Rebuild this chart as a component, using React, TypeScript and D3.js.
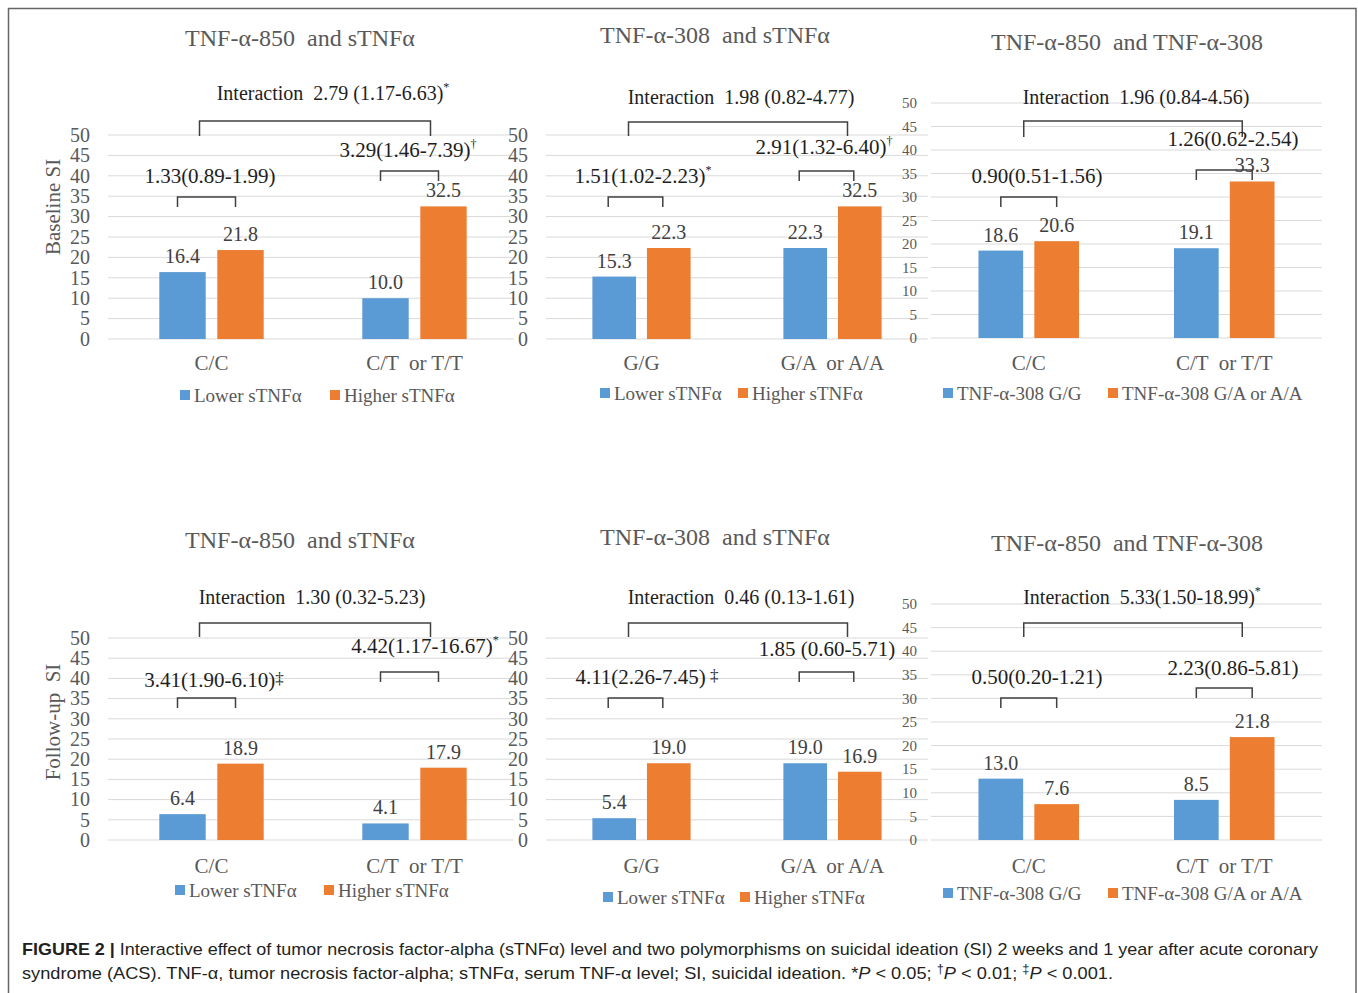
import React from "react";
import * as d3 from "d3";

// ---------------- DATA ----------------
const yTickValues = [0, 5, 10, 15, 20, 25, 30, 35, 40, 45, 50];
const panelTitles = ["TNF-α-850  and sTNFα", "TNF-α-308  and sTNFα", "TNF-α-850  and TNF-α-308"];
const cats850 = ["C/C", "C/T  or T/T"];
const cats308 = ["G/G", "G/A  or A/A"];
const seriesSTNF = ["Lower sTNFα", "Higher sTNFα"];
const series308 = ["TNF-α-308 G/G", "TNF-α-308 G/A or A/A"];
const rowTitles = ["Baseline SI", "Follow-up  SI"];

// values[category][series]
const baseline850 = [[16.4, 21.8], [10.0, 32.5]];
const baseline308 = [[15.3, 22.3], [22.3, 32.5]];
const baselineGene = [[18.6, 20.6], [19.1, 33.3]];
const followup850 = [[6.4, 18.9], [4.1, 17.9]];
const followup308 = [[5.4, 19.0], [19.0, 16.9]];
const followupGene = [[13.0, 7.6], [8.5, 21.8]];

const baselineInteractionOR = ["2.79 (1.17-6.63)", "1.98 (0.82-4.77)", "1.96 (0.84-4.56)"];
const baselineInteractionMark = ["*", "", ""];
const baselineGroupOR = [
  ["1.33(0.89-1.99)", "3.29(1.46-7.39)"],
  ["1.51(1.02-2.23)", "2.91(1.32-6.40)"],
  ["0.90(0.51-1.56)", "1.26(0.62-2.54)"],
];
const baselineGroupMark = [["", "†"], ["*", "†"], ["", ""]];

const followupInteractionOR = ["1.30 (0.32-5.23)", "0.46 (0.13-1.61)", "5.33(1.50-18.99)"];
const followupInteractionMark = ["", "", "*"];
const followupGroupOR = [
  ["3.41(1.90-6.10)", "4.42(1.17-16.67)"],
  ["4.11(2.26-7.45)", "1.85 (0.60-5.71)"],
  ["0.50(0.20-1.21)", "2.23(0.86-5.81)"],
];
const followupGroupMark = [["‡", "*"], [" ‡", ""], ["", ""]];

const captionLine1Bold = "FIGURE 2 |";
const captionLine1 = " Interactive effect of tumor necrosis factor-alpha (sTNFα) level and two polymorphisms on suicidal ideation (SI) 2 weeks and 1 year after acute coronary";
const captionLine2 = "syndrome (ACS). TNF-α, tumor necrosis factor-alpha; sTNFα, serum TNF-α level; SI, suicidal ideation. ";

// ---------------- LAYOUT ----------------
const BLUE = "#5B9BD5";
const ORANGE = "#ED7D31";
const GRID = "#D9D9D9";
const GRAY = "#595959";
const DARK = "#1e1e1e";
const SERIF = "'Liberation Serif', 'Times New Roman', serif";
const SANS = "'Liberation Sans Narrow', 'Liberation Sans', Arial, sans-serif";

const COLS = [
  { band: [110, 516], grid: [108, 514], tickX: 90, tickFont: 20, titleX: 300, bDx: -5, iDx: [-12, 16] },
  { band: [546, 928], grid: [546, 928], tickX: 528, tickFont: 20, titleX: 715, bDx: -6, iDx: [-13, 15] },
  { band: [931, 1322], grid: [931, 1322], tickX: 917, tickFont: 15, titleX: 1127, bDx: 0, iDx: [-5, 18] },
];

const PANELS = [
  [
    { y: [339, 135], titleY: 46, interX: 333, interY: 100, interBr: [121, 136], grp: [{ x: 210, y: 183, br: 197 }, { x: 408, y: 157, br: 171 }], legendY: 395, legendX: [180, 330], catY: 370 },
    { y: [339, 135], titleY: 43, interX: 741, interY: 104, interBr: [122, 136], grp: [{ x: 643, y: 183, br: 197 }, { x: 824, y: 154, br: 171 }], legendY: 393, legendX: [600, 738], catY: 370 },
    { y: [338, 103], titleY: 50, interX: 1136, interY: 104, interBr: [121, 137], grp: [{ x: 1037, y: 183, br: 197 }, { x: 1233, y: 146, br: 170 }], legendY: 393, legendX: [943, 1108], catY: 370 },
  ],
  [
    { y: [840, 638], titleY: 548, interX: 312, interY: 604, interBr: [623, 637], grp: [{ x: 214, y: 687, br: 698 }, { x: 425, y: 653, br: 672 }], legendY: 890, legendX: [175, 324], catY: 873 },
    { y: [840, 638], titleY: 545, interX: 741, interY: 604, interBr: [623, 637], grp: [{ x: 647, y: 684, br: 698 }, { x: 827, y: 656, br: 672 }], legendY: 897, legendX: [603, 740], catY: 873 },
    { y: [840, 604], titleY: 551, interX: 1142, interY: 604, interBr: [623, 637], grp: [{ x: 1037, y: 684, br: 698 }, { x: 1233, y: 675, br: 688 }], legendY: 893, legendX: [943, 1108], catY: 873 },
  ],
];

const ROWS = [
  {
    values: [baseline850, baseline308, baselineGene],
    interOR: baselineInteractionOR, interMark: baselineInteractionMark,
    grpOR: baselineGroupOR, grpMark: baselineGroupMark, yTitleY: 207,
  },
  {
    values: [followup850, followup308, followupGene],
    interOR: followupInteractionOR, interMark: followupInteractionMark,
    grpOR: followupGroupOR, grpMark: followupGroupMark, yTitleY: 722,
  },
];

const COL_CATS = [cats850, cats308, cats850];
const COL_SERIES = [seriesSTNF, seriesSTNF, series308];
const COLORS = [BLUE, ORANGE];

function Mark({ m }: { m: string }) {
  if (!m) return null;
  if (m.includes("‡")) {
    return <tspan dy={-3} fontSize={17}>{m}</tspan>;
  }
  return <tspan dy={-9} fontSize={12}>{m}</tspan>;
}

function Panel({ row, col }: { row: number; col: number }) {
  const c = COLS[col];
  const p = PANELS[row][col];
  const r = ROWS[row];
  const cats = COL_CATS[col];
  const series = COL_SERIES[col];
  const vals = r.values[col];

  const x0 = d3.scaleBand<string>().domain(cats).range(c.band as [number, number]).paddingInner(0).paddingOuter(0);
  const x1 = d3.scaleBand<number>().domain([0, 1]).range([0, x0.bandwidth()]).paddingInner(0.2).paddingOuter(0.85);
  const y = d3.scaleLinear().domain([0, 50]).range(p.y as [number, number]);

  const barCenter = (ci: number, si: number) => (x0(cats[ci]) as number) + (x1(si) as number) + x1.bandwidth() / 2;
  const catCenter = (ci: number) => (x0(cats[ci]) as number) + x0.bandwidth() / 2;

  const ib0 = catCenter(0) + c.iDx[0];
  const ib1 = catCenter(1) + c.iDx[1];

  return (
    <g>
      {/* gridlines */}
      {yTickValues.map((t) => (
        <line key={"g" + t} x1={c.grid[0]} x2={c.grid[1]} y1={y(t)} y2={y(t)} stroke={GRID} strokeWidth={1} />
      ))}
      {/* tick labels */}
      {yTickValues.map((t) => (
        <text key={"t" + t} x={c.tickX} y={y(t)} dy="0.34em" textAnchor="end" fontSize={c.tickFont} fill={GRAY} fontFamily={SERIF}>
          {t}
        </text>
      ))}
      {/* bars */}
      {vals.map((pair, ci) =>
        pair.map((v, si) => (
          <rect
            key={`b${ci}-${si}`}
            x={(x0(cats[ci]) as number) + (x1(si) as number)}
            y={y(v)}
            width={x1.bandwidth()}
            height={y(0) - y(v)}
            fill={COLORS[si]}
          />
        ))
      )}
      {/* value labels */}
      {vals.map((pair, ci) =>
        pair.map((v, si) => (
          <text key={`v${ci}-${si}`} x={barCenter(ci, si)} y={y(v) - 9} textAnchor="middle" fontSize={20} fill="#404040" fontFamily={SERIF}>
            {v.toFixed(1)}
          </text>
        ))
      )}
      {/* category labels */}
      {cats.map((cat, ci) => (
        <text key={"c" + ci} x={catCenter(ci)} y={p.catY} textAnchor="middle" fontSize={21} fill={GRAY} fontFamily={SERIF} style={{ whiteSpace: "pre" }}>
          {cat}
        </text>
      ))}
      {/* title */}
      <text x={c.titleX} y={p.titleY} textAnchor="middle" fontSize={24} fill={GRAY} fontFamily={SERIF} style={{ whiteSpace: "pre" }}>
        {panelTitles[col]}
      </text>
      {/* interaction */}
      <text x={p.interX} y={p.interY} textAnchor="middle" fontSize={20} fill={DARK} fontFamily={SERIF} style={{ whiteSpace: "pre" }}>
        {"Interaction  " + r.interOR[col]}
        <Mark m={r.interMark[col]} />
      </text>
      <path
        d={`M${ib0},${p.interBr[1]}V${p.interBr[0]}H${ib1}V${p.interBr[1]}`}
        fill="none"
        stroke="#404040"
        strokeWidth={1.5}
      />
      {/* group ORs */}
      {p.grp.map((g, ci) => {
        const bx0 = barCenter(ci, 0) + c.bDx;
        const bx1 = barCenter(ci, 1) + c.bDx;
        return (
          <g key={"o" + ci}>
            <text x={g.x} y={g.y} textAnchor="middle" fontSize={21} fill={DARK} fontFamily={SERIF} style={{ whiteSpace: "pre" }}>
              {r.grpOR[col][ci]}
              <Mark m={r.grpMark[col][ci]} />
            </text>
            <path d={`M${bx0},${g.br + 10}V${g.br}H${bx1}V${g.br + 10}`} fill="none" stroke="#404040" strokeWidth={1.5} />
          </g>
        );
      })}
      {/* legend */}
      {series.map((s, si) => (
        <g key={"l" + si}>
          <rect x={p.legendX[si]} y={p.legendY - 5} width={10} height={10} fill={COLORS[si]} />
          <text x={p.legendX[si] + 14} y={p.legendY} dy="0.35em" fontSize={19} fill={GRAY} fontFamily={SERIF}>
            {s}
          </text>
        </g>
      ))}
    </g>
  );
}

export default function App() {
  return (
    <svg
      width={1358}
      height={993}
      viewBox="0 0 1358 993"
      style={{ position: "absolute", left: 0, top: 0, background: "#fff" }}
    >
      <rect x={0} y={0} width={1358} height={993} fill="#fff" />
      {[0, 1].map((row) =>
        [0, 1, 2].map((col) => <Panel key={`${row}-${col}`} row={row} col={col} />)
      )}
      {ROWS.map((r, i) => (
        <text
          key={"yt" + i}
          transform={`translate(53,${r.yTitleY}) rotate(-90)`}
          textAnchor="middle"
          dy="0.35em"
          fontSize={21}
          fill={GRAY}
          fontFamily={SERIF}
          style={{ whiteSpace: "pre" }}
        >
          {rowTitles[i]}
        </text>
      ))}
      {/* caption */}
      <text x={22} y={955} fontSize={17} fill="#231f20" fontFamily={SANS} textLength={1296} lengthAdjust="spacingAndGlyphs" style={{ whiteSpace: "pre" }}>
        <tspan fontWeight="bold">{captionLine1Bold}</tspan>
        {captionLine1}
      </text>
      <text x={22} y={979} fontSize={17} fill="#231f20" fontFamily={SANS} textLength={1091} lengthAdjust="spacingAndGlyphs" style={{ whiteSpace: "pre" }}>
        {captionLine2}
        {"*"}
        <tspan fontStyle="italic">P</tspan>
        {" < 0.05; "}
        <tspan dy={-6} fontSize={12}>†</tspan>
        <tspan dy={6} fontStyle="italic">P</tspan>
        {" < 0.01; "}
        <tspan dy={-6} fontSize={12}>‡</tspan>
        <tspan dy={6} fontStyle="italic">P</tspan>
        {" < 0.001."}
      </text>
      {/* outer frame */}
      <path d="M8.5,1000V8.5H1356V1000" fill="none" stroke="#666" strokeWidth={1.5} />
    </svg>
  );
}
